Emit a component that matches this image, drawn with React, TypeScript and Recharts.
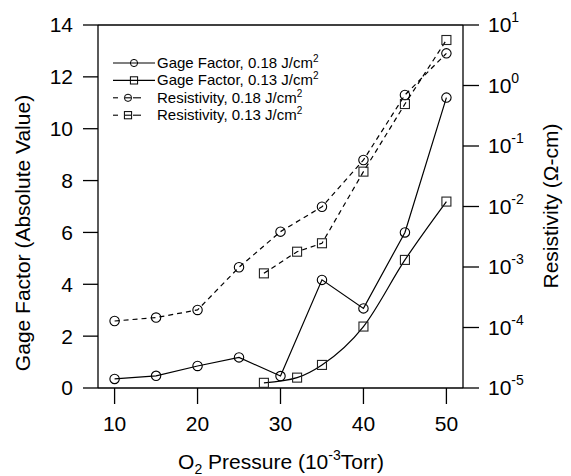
import { ComposedChart, Line, XAxis, YAxis, ReferenceLine, Legend } from "recharts"

document.body.style.margin = "0"

const FONT = "'Liberation Sans', Arial, Helvetica, sans-serif"

// 0.18 J/cm2 series
const pressure18 = [10, 15, 20, 25, 30, 35, 40, 45, 50]
const gage18 = [0.35, 0.47, 0.85, 1.18, 0.46, 4.17, 3.07, 6.0, 11.2]
const resist18 = [1.28e-4, 1.46e-4, 1.95e-4, 9.9e-4, 3.84e-3, 9.9e-3, 0.0587, 0.697, 3.4]

// 0.13 J/cm2 series
const pressure13 = [28, 32, 35, 40, 45, 50]
const gage13 = [0.2, 0.4, 0.89, 2.37, 4.94, 7.19]
const resist13 = [7.85e-4, 1.79e-3, 2.47e-3, 0.0377, 0.494, 5.65]

const pressureTicks = [10, 20, 30, 40, 50]
const gageTicks = [0, 2, 4, 6, 8, 10, 12, 14]
const resistTicks = [1e-5, 1e-4, 1e-3, 1e-2, 1e-1, 1, 10]

const legendLabels = [
  "Gage Factor, 0.18 J/cm",
  "Gage Factor, 0.13 J/cm",
  "Resistivity, 0.18 J/cm",
  "Resistivity, 0.13 J/cm",
]

const toPoints = (xs: number[], ys: number[]) => xs.map((x, i) => ({ x, y: ys[i] }))

const circleDot = (r: number) => (p: any) => (
  <circle key={p.index} cx={p.cx} cy={p.cy} r={r} fill="none" stroke="#000" strokeWidth={1.1} />
)
const squareDot = (s: number) => (p: any) => (
  <rect key={p.index} x={p.cx - s / 2} y={p.cy - s / 2} width={s} height={s} fill="none" stroke="#222" strokeWidth={1.1} />
)

function ResistTick({ x, y, payload }: any) {
  const exp = Math.round(Math.log10(payload.value))
  return (
    <text x={x} y={y} dy={7} fontSize={21} fill="#000" fontFamily={FONT} textAnchor="start">
      10<tspan dy={-10} fontSize={14}>{exp}</tspan>
    </text>
  )
}

function LegendBox() {
  const rows = [0, 1, 2, 3]
  return (
    <svg width={240} height={80} style={{ display: "block" }}>
      {rows.map((i) => {
        const cy = 13 + i * 17.4
        const dashed = i >= 2
        const mx = dashed ? 28 : 34
        const marker =
          i % 2 === 0 ? (
            <circle cx={mx} cy={cy} r={3.6} fill="none" stroke="#000" strokeWidth={1} />
          ) : (
            <rect x={mx - 3.6} y={cy - 3.6} width={7.2} height={7.2} fill="none" stroke="#000" strokeWidth={1} />
          )
        return (
          <g key={i}>
            {dashed ? (
              <>
                <line x1={13} x2={18} y1={cy} y2={cy} stroke="#000" strokeWidth={1.1} />
                <line x1={mx - 3} x2={mx + 3} y1={cy} y2={cy} stroke="#000" strokeWidth={1.1} />
                <line x1={mx + 5} x2={41} y1={cy} y2={cy} stroke="#000" strokeWidth={1.1} />
              </>
            ) : (
              <line x1={13} x2={55} y1={cy} y2={cy} stroke="#000" strokeWidth={1.1} />
            )}
            {marker}
            <text x={57} y={cy + 5} fontSize={15} fontFamily={FONT} fill="#000">
              {legendLabels[i]}
              <tspan dy={-6} fontSize={10}>2</tspan>
            </text>
          </g>
        )
      })}
    </svg>
  )
}

export default function App() {
  return (
    <ComposedChart
      width={571}
      height={476}
      margin={{ top: 25, right: 38, bottom: 28, left: 38 }}
      style={{ fontFamily: FONT, background: "#fff" }}
    >
      <XAxis
        dataKey="x"
        type="number"
        domain={[8, 52]}
        ticks={pressureTicks}
        height={60}
        tickSize={16}
        tickMargin={12}
        stroke="#000"
        strokeWidth={1.3}
        tick={{ fill: "#000", fontSize: 21, fontFamily: FONT }}
        allowDataOverflow
        label={() => (
          <text x={281} y={469} textAnchor="middle" fontSize={21} fontFamily={FONT} fill="#000">
            O<tspan dy={5} fontSize={14}>2</tspan>
            <tspan dy={-5}>{" Pressure (10"}</tspan>
            <tspan dy={-9} fontSize={14}>-3</tspan>
            <tspan dy={9}>Torr)</tspan>
          </text>
        )}
      />
      <YAxis
        yAxisId="left"
        type="number"
        domain={[0, 14]}
        ticks={gageTicks}
        width={60}
        tickSize={15}
        tickMargin={10}
        stroke="#000"
        strokeWidth={1.3}
        tick={{ fill: "#000", fontSize: 21, fontFamily: FONT }}
        allowDataOverflow
        label={() => (
          <text x={30} y={233} transform="rotate(-90, 30, 233)" textAnchor="middle" fontSize={21} fontFamily={FONT} fill="#000">
            Gage Factor (Absolute Value)
          </text>
        )}
      />
      <YAxis
        yAxisId="right"
        orientation="right"
        type="number"
        scale="log"
        domain={[1e-5, 10]}
        ticks={resistTicks}
        width={70}
        tickSize={16}
        tickMargin={9}
        stroke="#000"
        strokeWidth={1.3}
        tick={<ResistTick />}
        allowDataOverflow
        label={() => (
          <text x={558} y={206} transform="rotate(-90, 558, 206)" textAnchor="middle" fontSize={21} fontFamily={FONT} fill="#000">
            Resistivity (Ω-cm)
          </text>
        )}
      />
      <ReferenceLine yAxisId="left" y={14} stroke="#000" strokeWidth={1.3} />
      <Legend
        layout="vertical"
        align="center"
        verticalAlign="middle"
        content={() => <LegendBox />}
        wrapperStyle={{ position: "absolute", left: 100, top: 50, width: 240, height: 80 }}
      />
      <Line
        yAxisId="left"
        data={toPoints(pressure18, gage18)}
        dataKey="y"
        type="linear"
        stroke="#000"
        strokeWidth={1.2}
        dot={circleDot(4.7)}
        activeDot={false}
        isAnimationActive={false}
        legendType="none"
      />
      <Line
        yAxisId="left"
        data={toPoints(pressure13, gage13)}
        dataKey="y"
        type="monotone"
        stroke="#000"
        strokeWidth={1.2}
        dot={squareDot(9)}
        activeDot={false}
        isAnimationActive={false}
        legendType="none"
      />
      <Line
        yAxisId="right"
        data={toPoints(pressure18, resist18)}
        dataKey="y"
        type="linear"
        stroke="#000"
        strokeWidth={1.2}
        strokeDasharray="5 4"
        dot={circleDot(4.7)}
        activeDot={false}
        isAnimationActive={false}
        legendType="none"
      />
      <Line
        yAxisId="right"
        data={toPoints(pressure13, resist13)}
        dataKey="y"
        type="linear"
        stroke="#000"
        strokeWidth={1.2}
        strokeDasharray="5 4"
        dot={squareDot(9)}
        activeDot={false}
        isAnimationActive={false}
        legendType="none"
      />
    </ComposedChart>
  )
}
